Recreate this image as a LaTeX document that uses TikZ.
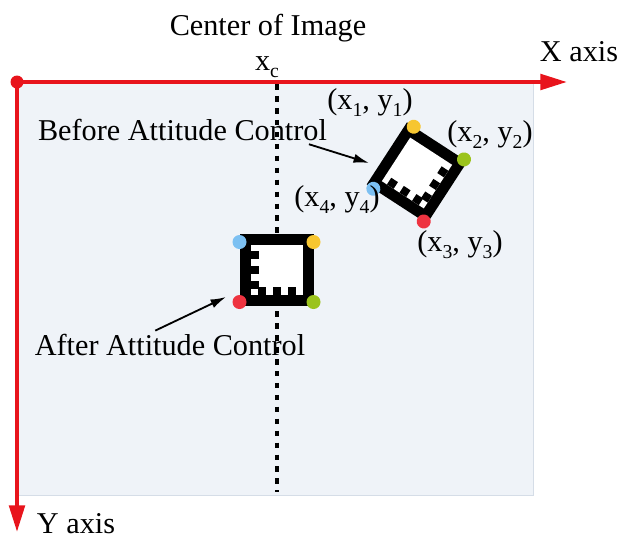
\documentclass[tikz,border=0pt]{standalone}
\usepackage{fontspec}
\setmainfont{Liberation Serif}
\usepackage{xcolor}
\usetikzlibrary{arrows, arrows.meta}
\usetikzlibrary{positioning}
\usetikzlibrary{calc}
\definecolor{axisred}{HTML}{E8141C}
\definecolor{imgbg}{HTML}{EFF3F8}
\definecolor{imgedge}{HTML}{D5DDE7}
\definecolor{dotblue}{HTML}{7CC0F2}
\definecolor{dotyellow}{HTML}{F7C630}
\definecolor{dotgreen}{HTML}{9BC31C}
\definecolor{dotred}{HTML}{EE3340}
\newcommand{\lowsub}[1]{\raisebox{-0.55ex}{\fontsize{14}{16}\selectfont #1}}
% marker with its four corner points, drawn round (0,0)
\newcommand{\tagmarker}{%
	\fill[black] (-37,-36) rectangle (37,36);
	\fill[white] (-26,-25) rectangle (26,25);
	\foreach \k in {-15,0,15} {
		\fill[black] (-26,\k-4) rectangle (-18,\k+4);
		\fill[black] (\k-4,17) rectangle (\k+4,25);
	}
	\fill[dotblue] (-37,-28) circle (7);
	\fill[dotyellow] (37,-28) circle (7);
	\fill[dotgreen] (37,32) circle (7);
	\fill[dotred] (-37,32) circle (7);
}

\begin{document}
\begin{tikzpicture}[x=0.025cm, y=-0.025cm,
		lbl/.style={inner sep=0pt, anchor=base, font=\fontsize{21.5}{26}\selectfont},
		pointer/.style={-{Latex[length=11pt,width=6.5pt]}, line width=1.3pt}]
			\useasboundingbox (0,0) rectangle (633,541);
			% image area
			\filldraw[fill=imgbg, draw=imgedge, line width=0.6pt] (17,82) rectangle (533,495);
			% draw axes
			\coordinate (origin) at (17,82);
			\coordinate (xend) at (567,82);
			\coordinate (yend) at (17,532);
			\draw[axisred, line width=2.8pt, -{Triangle[length=19pt,width=11pt]}] (origin) -- (xend);
			\draw[axisred, line width=2.8pt, -{Triangle[length=19pt,width=11pt]}] (origin) -- (yend);
			\fill[axisred] (origin) circle (6.5);
			% center line
			\coordinate (dashtop) at (277,84);
			\coordinate (dashbot) at (277,492);
			\draw[line width=2.2pt, dash pattern=on 4pt off 4.5pt] (dashtop) -- (dashbot);
			% markers
			\begin{scope}[shift={(276.5,270)}]
				\tagmarker
			\end{scope}
			\begin{scope}[shift={(417,173)}, rotate=57]
				\tagmarker
			\end{scope}
			% labels
			\node[lbl] (center) at (268,35) {Center of Image};
			\node[lbl] (xc) at (267,70) {x\lowsub{c}};
			\node[lbl] (xaxis) at (579,61) {X axis};
			\node[lbl] (yaxis) at (76,533) {Y axis};
			\node[lbl] (beforelbl) at (182.5,140) {Before Attitude Control};
			\node[lbl] (afterlbl) at (170,355) {After Attitude Control};
			\node[lbl] (p1) at (370,109) {(x\lowsub{1}, y\lowsub{1})};
			\node[lbl] (p2) at (490,141) {(x\lowsub{2}, y\lowsub{2})};
			\node[lbl] (p3) at (460,251) {(x\lowsub{3}, y\lowsub{3})};
			\node[lbl] (p4) at (337,206) {(x\lowsub{4}, y\lowsub{4})};
			% add arrow
			\coordinate (beforetip) at (369,163);
			\coordinate (aftertip) at (226,297);
			\draw[pointer] ([xshift=-13pt,yshift=-3pt]beforelbl.base east) -- (beforetip);
			\draw[pointer] ([xshift=-10.5pt,yshift=2pt]afterlbl.north) -- (aftertip);
		\end{tikzpicture}
\end{document}
